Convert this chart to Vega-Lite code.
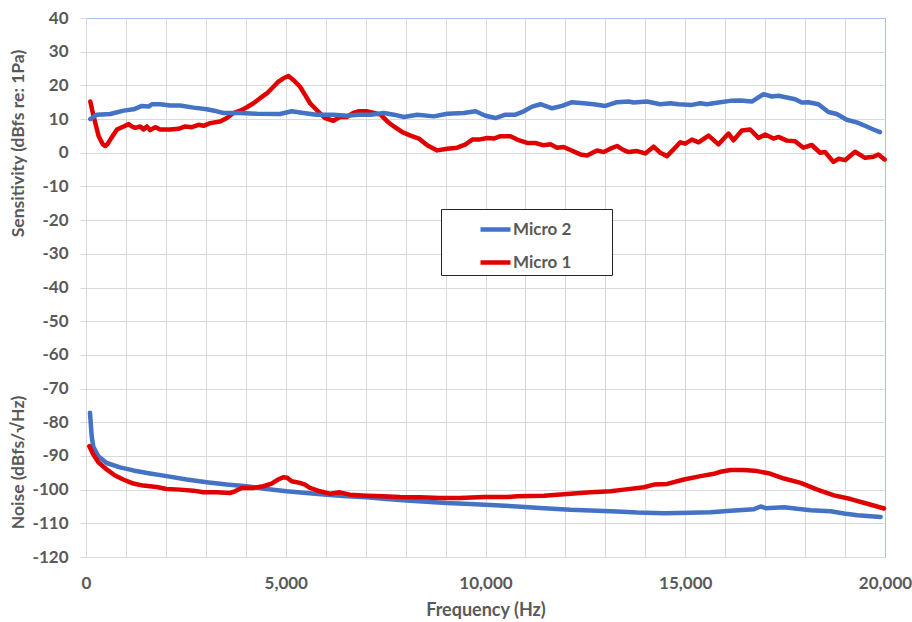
{
  "$schema": "https://vega.github.io/schema/vega-lite/v6.json",
  "autosize": {"type": "none"},
  "width": 799,
  "height": 539,
  "padding": {"left": 86, "top": 18, "right": 27, "bottom": 65},
  "background": "white",
  "config": {
    "font": "Lato",
    "view": {"stroke": "#a8c2ea", "strokeWidth": 1},
    "axis": {
      "labelFont": "Lato", "labelFontSize": 17, "labelFontWeight": "bold", "labelColor": "#595959",
      "titleFont": "Lato", "titleFontSize": 17, "titleFontWeight": "bold", "titleColor": "#595959",
      "domainColor": "#d9d9d9", "tickColor": "#d9d9d9", "gridColor": "#d9d9d9", "gridOpacity": 1
    }
  },
  "datasets": {
    "sens": [
      {"mic": "Micro 1", "freq": 108, "db": 15.2}, {"mic": "Micro 1", "freq": 190, "db": 10.8}, {"mic": "Micro 1", "freq": 317, "db": 4.9},
      {"mic": "Micro 1", "freq": 420, "db": 2.5}, {"mic": "Micro 1", "freq": 483, "db": 2.0}, {"mic": "Micro 1", "freq": 540, "db": 2.6},
      {"mic": "Micro 1", "freq": 608, "db": 3.9}, {"mic": "Micro 1", "freq": 775, "db": 6.9}, {"mic": "Micro 1", "freq": 942, "db": 7.8},
      {"mic": "Micro 1", "freq": 1067, "db": 8.5}, {"mic": "Micro 1", "freq": 1150, "db": 7.8}, {"mic": "Micro 1", "freq": 1233, "db": 7.4},
      {"mic": "Micro 1", "freq": 1358, "db": 7.8}, {"mic": "Micro 1", "freq": 1442, "db": 6.9}, {"mic": "Micro 1", "freq": 1525, "db": 7.8},
      {"mic": "Micro 1", "freq": 1608, "db": 6.7}, {"mic": "Micro 1", "freq": 1733, "db": 7.6}, {"mic": "Micro 1", "freq": 1858, "db": 6.9},
      {"mic": "Micro 1", "freq": 2108, "db": 6.9}, {"mic": "Micro 1", "freq": 2317, "db": 7.1}, {"mic": "Micro 1", "freq": 2483, "db": 7.8},
      {"mic": "Micro 1", "freq": 2650, "db": 7.6}, {"mic": "Micro 1", "freq": 2817, "db": 8.3}, {"mic": "Micro 1", "freq": 2942, "db": 8.0},
      {"mic": "Micro 1", "freq": 3108, "db": 8.8}, {"mic": "Micro 1", "freq": 3358, "db": 9.3}, {"mic": "Micro 1", "freq": 3525, "db": 10.3},
      {"mic": "Micro 1", "freq": 3692, "db": 11.8}, {"mic": "Micro 1", "freq": 3858, "db": 12.5}, {"mic": "Micro 1", "freq": 4025, "db": 13.5},
      {"mic": "Micro 1", "freq": 4192, "db": 14.7}, {"mic": "Micro 1", "freq": 4358, "db": 16.2}, {"mic": "Micro 1", "freq": 4525, "db": 17.6},
      {"mic": "Micro 1", "freq": 4692, "db": 19.6}, {"mic": "Micro 1", "freq": 4817, "db": 21.1}, {"mic": "Micro 1", "freq": 4942, "db": 22.1},
      {"mic": "Micro 1", "freq": 5067, "db": 22.8}, {"mic": "Micro 1", "freq": 5192, "db": 21.6}, {"mic": "Micro 1", "freq": 5358, "db": 19.6},
      {"mic": "Micro 1", "freq": 5483, "db": 17.2}, {"mic": "Micro 1", "freq": 5608, "db": 14.7}, {"mic": "Micro 1", "freq": 5775, "db": 12.7},
      {"mic": "Micro 1", "freq": 5983, "db": 10.3}, {"mic": "Micro 1", "freq": 6192, "db": 9.5}, {"mic": "Micro 1", "freq": 6358, "db": 10.6},
      {"mic": "Micro 1", "freq": 6525, "db": 10.6}, {"mic": "Micro 1", "freq": 6692, "db": 11.8}, {"mic": "Micro 1", "freq": 6817, "db": 12.3},
      {"mic": "Micro 1", "freq": 7042, "db": 12.3}, {"mic": "Micro 1", "freq": 7208, "db": 11.8}, {"mic": "Micro 1", "freq": 7375, "db": 11.3},
      {"mic": "Micro 1", "freq": 7542, "db": 9.3}, {"mic": "Micro 1", "freq": 7708, "db": 7.8}, {"mic": "Micro 1", "freq": 7917, "db": 6.1},
      {"mic": "Micro 1", "freq": 8125, "db": 5.1}, {"mic": "Micro 1", "freq": 8333, "db": 4.2}, {"mic": "Micro 1", "freq": 8542, "db": 2.2},
      {"mic": "Micro 1", "freq": 8792, "db": 0.7}, {"mic": "Micro 1", "freq": 9042, "db": 1.2}, {"mic": "Micro 1", "freq": 9292, "db": 1.5},
      {"mic": "Micro 1", "freq": 9500, "db": 2.5}, {"mic": "Micro 1", "freq": 9667, "db": 3.9}, {"mic": "Micro 1", "freq": 9833, "db": 3.9},
      {"mic": "Micro 1", "freq": 10042, "db": 4.4}, {"mic": "Micro 1", "freq": 10208, "db": 4.2}, {"mic": "Micro 1", "freq": 10375, "db": 4.9},
      {"mic": "Micro 1", "freq": 10625, "db": 4.9}, {"mic": "Micro 1", "freq": 10792, "db": 3.9}, {"mic": "Micro 1", "freq": 11042, "db": 2.9},
      {"mic": "Micro 1", "freq": 11250, "db": 2.9}, {"mic": "Micro 1", "freq": 11458, "db": 2.2}, {"mic": "Micro 1", "freq": 11625, "db": 2.5},
      {"mic": "Micro 1", "freq": 11792, "db": 1.5}, {"mic": "Micro 1", "freq": 11958, "db": 1.7}, {"mic": "Micro 1", "freq": 12125, "db": 0.8},
      {"mic": "Micro 1", "freq": 12375, "db": -0.5}, {"mic": "Micro 1", "freq": 12542, "db": -0.8}, {"mic": "Micro 1", "freq": 12792, "db": 0.7},
      {"mic": "Micro 1", "freq": 12958, "db": 0.2}, {"mic": "Micro 1", "freq": 13125, "db": 1.2}, {"mic": "Micro 1", "freq": 13292, "db": 2.0},
      {"mic": "Micro 1", "freq": 13458, "db": 0.8}, {"mic": "Micro 1", "freq": 13583, "db": 0.2}, {"mic": "Micro 1", "freq": 13792, "db": 0.5},
      {"mic": "Micro 1", "freq": 14000, "db": -0.2}, {"mic": "Micro 1", "freq": 14208, "db": 1.8}, {"mic": "Micro 1", "freq": 14375, "db": 0},
      {"mic": "Micro 1", "freq": 14542, "db": -1.0}, {"mic": "Micro 1", "freq": 14708, "db": 1.0}, {"mic": "Micro 1", "freq": 14875, "db": 3.1},
      {"mic": "Micro 1", "freq": 15000, "db": 2.7}, {"mic": "Micro 1", "freq": 15167, "db": 3.9}, {"mic": "Micro 1", "freq": 15333, "db": 3.1},
      {"mic": "Micro 1", "freq": 15583, "db": 5.1}, {"mic": "Micro 1", "freq": 15833, "db": 2.5}, {"mic": "Micro 1", "freq": 16083, "db": 5.7},
      {"mic": "Micro 1", "freq": 16208, "db": 3.7}, {"mic": "Micro 1", "freq": 16417, "db": 6.6}, {"mic": "Micro 1", "freq": 16625, "db": 6.9},
      {"mic": "Micro 1", "freq": 16833, "db": 4.4}, {"mic": "Micro 1", "freq": 17000, "db": 5.4}, {"mic": "Micro 1", "freq": 17208, "db": 4.2},
      {"mic": "Micro 1", "freq": 17333, "db": 4.7}, {"mic": "Micro 1", "freq": 17542, "db": 3.6}, {"mic": "Micro 1", "freq": 17750, "db": 3.4},
      {"mic": "Micro 1", "freq": 17958, "db": 1.5}, {"mic": "Micro 1", "freq": 18167, "db": 2.3}, {"mic": "Micro 1", "freq": 18375, "db": 0},
      {"mic": "Micro 1", "freq": 18500, "db": 0.2}, {"mic": "Micro 1", "freq": 18708, "db": -2.7}, {"mic": "Micro 1", "freq": 18833, "db": -1.8},
      {"mic": "Micro 1", "freq": 19000, "db": -2.2}, {"mic": "Micro 1", "freq": 19250, "db": 0.3}, {"mic": "Micro 1", "freq": 19500, "db": -1.5},
      {"mic": "Micro 1", "freq": 19708, "db": -1.2}, {"mic": "Micro 1", "freq": 19833, "db": -0.5}, {"mic": "Micro 1", "freq": 19990, "db": -2.0},

      {"mic": "Micro 2", "freq": 108, "db": 10.0}, {"mic": "Micro 2", "freq": 275, "db": 11.3}, {"mic": "Micro 2", "freq": 608, "db": 11.5},
      {"mic": "Micro 2", "freq": 942, "db": 12.5}, {"mic": "Micro 2", "freq": 1192, "db": 12.9}, {"mic": "Micro 2", "freq": 1400, "db": 13.9},
      {"mic": "Micro 2", "freq": 1567, "db": 13.7}, {"mic": "Micro 2", "freq": 1650, "db": 14.4}, {"mic": "Micro 2", "freq": 1858, "db": 14.4},
      {"mic": "Micro 2", "freq": 2108, "db": 14.0}, {"mic": "Micro 2", "freq": 2358, "db": 14.0}, {"mic": "Micro 2", "freq": 2692, "db": 13.4},
      {"mic": "Micro 2", "freq": 3025, "db": 12.9}, {"mic": "Micro 2", "freq": 3275, "db": 12.3}, {"mic": "Micro 2", "freq": 3442, "db": 11.8},
      {"mic": "Micro 2", "freq": 3858, "db": 11.8}, {"mic": "Micro 2", "freq": 4275, "db": 11.6}, {"mic": "Micro 2", "freq": 4858, "db": 11.5},
      {"mic": "Micro 2", "freq": 5150, "db": 12.3}, {"mic": "Micro 2", "freq": 5442, "db": 11.8}, {"mic": "Micro 2", "freq": 5775, "db": 11.3},
      {"mic": "Micro 2", "freq": 6192, "db": 11.3}, {"mic": "Micro 2", "freq": 6525, "db": 11.0}, {"mic": "Micro 2", "freq": 6817, "db": 11.3},
      {"mic": "Micro 2", "freq": 7125, "db": 11.3}, {"mic": "Micro 2", "freq": 7458, "db": 11.8}, {"mic": "Micro 2", "freq": 7708, "db": 11.3},
      {"mic": "Micro 2", "freq": 7958, "db": 10.6}, {"mic": "Micro 2", "freq": 8292, "db": 11.3}, {"mic": "Micro 2", "freq": 8708, "db": 10.8},
      {"mic": "Micro 2", "freq": 9042, "db": 11.6}, {"mic": "Micro 2", "freq": 9458, "db": 11.8}, {"mic": "Micro 2", "freq": 9750, "db": 12.3},
      {"mic": "Micro 2", "freq": 10000, "db": 11.0}, {"mic": "Micro 2", "freq": 10250, "db": 10.3}, {"mic": "Micro 2", "freq": 10500, "db": 11.3},
      {"mic": "Micro 2", "freq": 10750, "db": 11.3}, {"mic": "Micro 2", "freq": 10958, "db": 12.3}, {"mic": "Micro 2", "freq": 11167, "db": 13.7},
      {"mic": "Micro 2", "freq": 11375, "db": 14.4}, {"mic": "Micro 2", "freq": 11667, "db": 13.2}, {"mic": "Micro 2", "freq": 11917, "db": 13.9},
      {"mic": "Micro 2", "freq": 12167, "db": 15.0}, {"mic": "Micro 2", "freq": 12458, "db": 14.7}, {"mic": "Micro 2", "freq": 12708, "db": 14.4},
      {"mic": "Micro 2", "freq": 13000, "db": 13.9}, {"mic": "Micro 2", "freq": 13292, "db": 15.0}, {"mic": "Micro 2", "freq": 13583, "db": 15.2},
      {"mic": "Micro 2", "freq": 13708, "db": 14.9}, {"mic": "Micro 2", "freq": 14042, "db": 15.2}, {"mic": "Micro 2", "freq": 14375, "db": 14.4},
      {"mic": "Micro 2", "freq": 14625, "db": 14.7}, {"mic": "Micro 2", "freq": 14833, "db": 14.4}, {"mic": "Micro 2", "freq": 15167, "db": 14.2},
      {"mic": "Micro 2", "freq": 15375, "db": 14.7}, {"mic": "Micro 2", "freq": 15542, "db": 14.4}, {"mic": "Micro 2", "freq": 15875, "db": 15.0},
      {"mic": "Micro 2", "freq": 16125, "db": 15.4}, {"mic": "Micro 2", "freq": 16375, "db": 15.5}, {"mic": "Micro 2", "freq": 16667, "db": 15.2},
      {"mic": "Micro 2", "freq": 16958, "db": 17.4}, {"mic": "Micro 2", "freq": 17167, "db": 16.7}, {"mic": "Micro 2", "freq": 17333, "db": 16.9},
      {"mic": "Micro 2", "freq": 17542, "db": 16.4}, {"mic": "Micro 2", "freq": 17750, "db": 15.9}, {"mic": "Micro 2", "freq": 17917, "db": 14.9},
      {"mic": "Micro 2", "freq": 18083, "db": 15.0}, {"mic": "Micro 2", "freq": 18333, "db": 14.4}, {"mic": "Micro 2", "freq": 18583, "db": 12.1},
      {"mic": "Micro 2", "freq": 18792, "db": 11.5}, {"mic": "Micro 2", "freq": 19042, "db": 9.8}, {"mic": "Micro 2", "freq": 19292, "db": 9.0},
      {"mic": "Micro 2", "freq": 19542, "db": 7.8}, {"mic": "Micro 2", "freq": 19708, "db": 6.9}, {"mic": "Micro 2", "freq": 19875, "db": 6.1}
    ],
    "noise": [
      {"mic": "Micro 2", "freq": 100, "db": -77.2}, {"mic": "Micro 2", "freq": 142, "db": -84.1}, {"mic": "Micro 2", "freq": 183, "db": -87.3},
      {"mic": "Micro 2", "freq": 309, "db": -90.1}, {"mic": "Micro 2", "freq": 517, "db": -92.1}, {"mic": "Micro 2", "freq": 851, "db": -93.4},
      {"mic": "Micro 2", "freq": 1184, "db": -94.3}, {"mic": "Micro 2", "freq": 1601, "db": -95.2}, {"mic": "Micro 2", "freq": 2018, "db": -96.0},
      {"mic": "Micro 2", "freq": 2519, "db": -97.0}, {"mic": "Micro 2", "freq": 3019, "db": -97.8}, {"mic": "Micro 2", "freq": 3520, "db": -98.5},
      {"mic": "Micro 2", "freq": 4020, "db": -99.0}, {"mic": "Micro 2", "freq": 4520, "db": -99.8}, {"mic": "Micro 2", "freq": 5021, "db": -100.5},
      {"mic": "Micro 2", "freq": 5521, "db": -101.0}, {"mic": "Micro 2", "freq": 6022, "db": -101.5}, {"mic": "Micro 2", "freq": 6522, "db": -102.0},
      {"mic": "Micro 2", "freq": 7023, "db": -102.3}, {"mic": "Micro 2", "freq": 7523, "db": -102.8}, {"mic": "Micro 2", "freq": 8023, "db": -103.2},
      {"mic": "Micro 2", "freq": 8524, "db": -103.6}, {"mic": "Micro 2", "freq": 9024, "db": -104.0}, {"mic": "Micro 2", "freq": 9624, "db": -104.3},
      {"mic": "Micro 2", "freq": 10125, "db": -104.6}, {"mic": "Micro 2", "freq": 10793, "db": -105.0}, {"mic": "Micro 2", "freq": 11461, "db": -105.5},
      {"mic": "Micro 2", "freq": 12129, "db": -106.0}, {"mic": "Micro 2", "freq": 12796, "db": -106.3}, {"mic": "Micro 2", "freq": 13297, "db": -106.5},
      {"mic": "Micro 2", "freq": 13798, "db": -106.8}, {"mic": "Micro 2", "freq": 14466, "db": -107.0}, {"mic": "Micro 2", "freq": 15134, "db": -106.9},
      {"mic": "Micro 2", "freq": 15634, "db": -106.7}, {"mic": "Micro 2", "freq": 16135, "db": -106.3}, {"mic": "Micro 2", "freq": 16720, "db": -105.8},
      {"mic": "Micro 2", "freq": 16887, "db": -105.0}, {"mic": "Micro 2", "freq": 17012, "db": -105.5}, {"mic": "Micro 2", "freq": 17471, "db": -105.2},
      {"mic": "Micro 2", "freq": 17805, "db": -105.7}, {"mic": "Micro 2", "freq": 18139, "db": -106.1}, {"mic": "Micro 2", "freq": 18639, "db": -106.4},
      {"mic": "Micro 2", "freq": 18973, "db": -107.1}, {"mic": "Micro 2", "freq": 19307, "db": -107.6}, {"mic": "Micro 2", "freq": 19641, "db": -107.9},
      {"mic": "Micro 2", "freq": 19891, "db": -108.1},

      {"mic": "Micro 1", "freq": 83, "db": -87.1}, {"mic": "Micro 1", "freq": 183, "db": -89.6}, {"mic": "Micro 1", "freq": 309, "db": -91.9},
      {"mic": "Micro 1", "freq": 517, "db": -94.0}, {"mic": "Micro 1", "freq": 726, "db": -95.8}, {"mic": "Micro 1", "freq": 934, "db": -97.0},
      {"mic": "Micro 1", "freq": 1184, "db": -98.2}, {"mic": "Micro 1", "freq": 1435, "db": -98.8}, {"mic": "Micro 1", "freq": 1768, "db": -99.2},
      {"mic": "Micro 1", "freq": 2018, "db": -99.8}, {"mic": "Micro 1", "freq": 2352, "db": -100.0}, {"mic": "Micro 1", "freq": 2686, "db": -100.3},
      {"mic": "Micro 1", "freq": 2936, "db": -100.8}, {"mic": "Micro 1", "freq": 3269, "db": -100.8}, {"mic": "Micro 1", "freq": 3603, "db": -101.0},
      {"mic": "Micro 1", "freq": 3728, "db": -100.5}, {"mic": "Micro 1", "freq": 3895, "db": -99.5}, {"mic": "Micro 1", "freq": 4187, "db": -99.5},
      {"mic": "Micro 1", "freq": 4437, "db": -99.0}, {"mic": "Micro 1", "freq": 4646, "db": -98.2}, {"mic": "Micro 1", "freq": 4812, "db": -97.0},
      {"mic": "Micro 1", "freq": 4937, "db": -96.3}, {"mic": "Micro 1", "freq": 5038, "db": -96.5}, {"mic": "Micro 1", "freq": 5146, "db": -97.5},
      {"mic": "Micro 1", "freq": 5354, "db": -98.0}, {"mic": "Micro 1", "freq": 5480, "db": -98.5}, {"mic": "Micro 1", "freq": 5605, "db": -99.5},
      {"mic": "Micro 1", "freq": 5855, "db": -100.5}, {"mic": "Micro 1", "freq": 6105, "db": -101.2}, {"mic": "Micro 1", "freq": 6355, "db": -100.8},
      {"mic": "Micro 1", "freq": 6605, "db": -101.5}, {"mic": "Micro 1", "freq": 7023, "db": -101.8}, {"mic": "Micro 1", "freq": 7440, "db": -102.0},
      {"mic": "Micro 1", "freq": 7857, "db": -102.2}, {"mic": "Micro 1", "freq": 8357, "db": -102.3}, {"mic": "Micro 1", "freq": 8857, "db": -102.5},
      {"mic": "Micro 1", "freq": 9358, "db": -102.5}, {"mic": "Micro 1", "freq": 9958, "db": -102.2}, {"mic": "Micro 1", "freq": 10543, "db": -102.2},
      {"mic": "Micro 1", "freq": 10793, "db": -102.0}, {"mic": "Micro 1", "freq": 11461, "db": -101.8}, {"mic": "Micro 1", "freq": 12045, "db": -101.3},
      {"mic": "Micro 1", "freq": 12629, "db": -100.8}, {"mic": "Micro 1", "freq": 13130, "db": -100.5}, {"mic": "Micro 1", "freq": 13464, "db": -100.0},
      {"mic": "Micro 1", "freq": 13965, "db": -99.3}, {"mic": "Micro 1", "freq": 14215, "db": -98.5}, {"mic": "Micro 1", "freq": 14549, "db": -98.3},
      {"mic": "Micro 1", "freq": 14967, "db": -97.0}, {"mic": "Micro 1", "freq": 15384, "db": -96.0}, {"mic": "Micro 1", "freq": 15718, "db": -95.3},
      {"mic": "Micro 1", "freq": 15885, "db": -94.7}, {"mic": "Micro 1", "freq": 16135, "db": -94.2}, {"mic": "Micro 1", "freq": 16469, "db": -94.2},
      {"mic": "Micro 1", "freq": 16803, "db": -94.5}, {"mic": "Micro 1", "freq": 17137, "db": -95.3}, {"mic": "Micro 1", "freq": 17471, "db": -96.7},
      {"mic": "Micro 1", "freq": 17888, "db": -98.0}, {"mic": "Micro 1", "freq": 18306, "db": -100.0}, {"mic": "Micro 1", "freq": 18723, "db": -101.7},
      {"mic": "Micro 1", "freq": 19140, "db": -102.8}, {"mic": "Micro 1", "freq": 19558, "db": -104.2}, {"mic": "Micro 1", "freq": 19975, "db": -105.6}
    ]
  },
  "layer": [
    {
      "data": {"name": "sens"},
      "mark": {"type": "line", "strokeWidth": 4.5, "strokeCap": "round", "strokeJoin": "round"},
      "encoding": {
        "x": {
          "field": "freq", "type": "quantitative",
          "scale": {"domain": [0, 20000], "nice": false},
          "axis": {
            "values": [0, 1000, 2000, 3000, 4000, 5000, 6000, 7000, 8000, 9000, 10000, 11000, 12000, 13000, 14000, 15000, 16000, 17000, 18000, 19000, 20000],
            "labelExpr": "datum.value % 5000 === 0 ? format(datum.value, ',') : ''",
            "labelOverlap": false, "labelFlush": false,
            "ticks": false, "tickSize": 0, "labelPadding": 18,
            "gridColor": {"condition": {"test": "datum.value === 20000", "value": "#a8c2ea"}, "value": "#d9d9d9"},
            "title": "Frequency (Hz)", "titleFontSize": 18, "titleY": 58, "titleBaseline": "alphabetic"
          }
        },
        "y": {
          "field": "db", "type": "quantitative",
          "scale": {"domain": [-120, 40], "nice": false},
          "axis": {
            "orient": "left",
            "values": [-120, -110, -100, -90, -80, -70, -60, -50, -40, -30, -20, -10, 0, 10, 20, 30, 40],
            "labelExpr": "datum.value + ''",
            "tickSize": 6, "labelPadding": 12,
            "gridColor": {"condition": {"test": "datum.value === 40", "value": "#a8c2ea"}, "value": "#d9d9d9"},
            "title": "Sensitivity (dBfs re: 1Pa)", "titleFontSize": 17.5,
            "titleX": -68, "titleY": 125, "titleAngle": -90, "titleAlign": "center", "titleBaseline": "middle"
          }
        },
        "color": {
          "field": "mic", "type": "nominal",
          "scale": {"domain": ["Micro 2", "Micro 1"], "range": ["#4472c4", "#e00000"]},
          "legend": {
            "orient": "none", "legendX": 355, "legendY": 191, "direction": "vertical",
            "title": " ", "titleOrient": "right", "titlePadding": 38,
            "strokeColor": "#262626", "fillColor": "white", "padding": 3,
            "symbolType": "stroke", "symbolSize": 900, "symbolStrokeWidth": 4.5, "symbolOffset": 34,
            "labelFont": "Lato", "labelFontSize": 17, "labelFontWeight": "bold", "labelColor": "#595959",
            "labelOffset": 0, "rowPadding": 6
          }
        }
      }
    },
    {
      "data": {"name": "noise"},
      "mark": {"type": "line", "strokeWidth": 4.5, "strokeCap": "round", "strokeJoin": "round"},
      "encoding": {
        "x": {"field": "freq", "type": "quantitative", "scale": {"domain": [0, 20000], "nice": false}, "axis": null},
        "y": {
          "field": "db", "type": "quantitative",
          "scale": {"domain": [-120, 40], "nice": false},
          "axis": {
            "orient": "left",
            "values": [-115, -105, -95, -85, -75, -65, -55, -45, -35, -25, -15, -5, 5, 15, 25, 35],
            "labels": false, "ticks": false, "domain": false,
            "gridColor": "#f0f0f0",
            "title": "Noise (dBfs/√Hz)", "titleFontSize": 17.5,
            "titleX": -68, "titleY": 444, "titleAngle": -90, "titleAlign": "center", "titleBaseline": "middle"
          }
        },
        "color": {"field": "mic", "type": "nominal"}
      }
    }
  ],
  "resolve": {"axis": {"x": "independent", "y": "independent"}}
}
